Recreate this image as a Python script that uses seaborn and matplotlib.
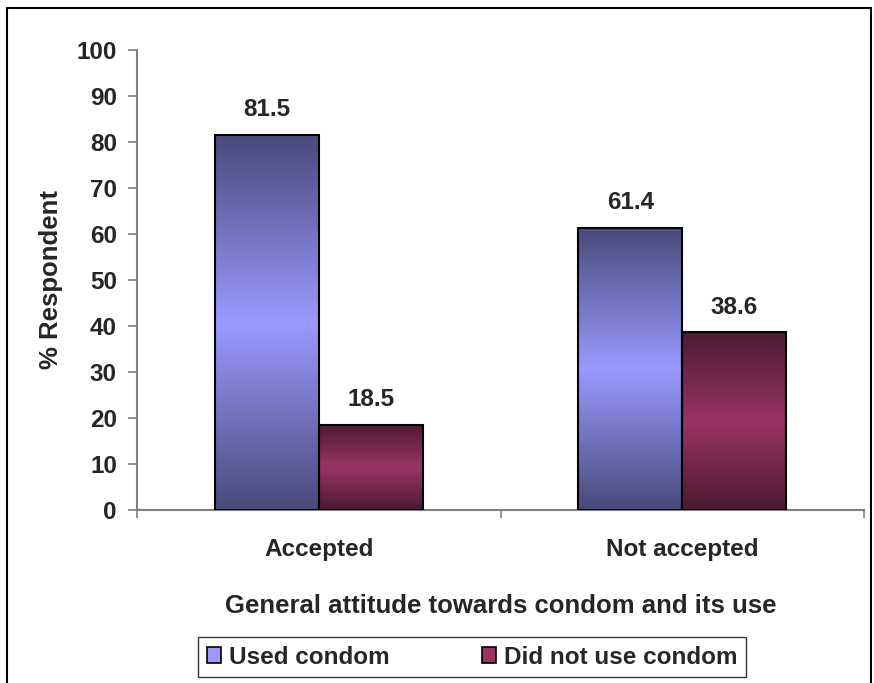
import numpy as np
import pandas as pd
import matplotlib
matplotlib.use('Agg')
import matplotlib.pyplot as plt
import seaborn as sns
from matplotlib.patches import Patch, Rectangle
from matplotlib.colors import LinearSegmentedColormap

sns.set_style('ticks')
plt.rcParams['font.family'] = ['Liberation Sans', 'DejaVu Sans']
plt.rcParams['font.weight'] = 'bold'

categories = ['Accepted', 'Not accepted']
series = ['Used condom', 'Did not use condom']
used = [81.5, 61.4]
not_used = [18.5, 38.6]

light = ['#9999FF', '#993366']
dark = ['#4A4A7C', '#4D1A33']

df = pd.DataFrame({
    'attitude': categories * 2,
    'group': [series[0]] * 2 + [series[1]] * 2,
    'value': used + not_used,
})

fig = plt.figure(figsize=(8.74, 6.83), dpi=100)
ax = fig.add_axes([0.1568, 0.2533, 0.8318, 0.6735])

sns.barplot(data=df, x='attitude', y='value', hue='group', hue_order=series,
            palette=light, width=0.573, ax=ax, legend=False,
            edgecolor='black', linewidth=1.5, saturation=1)

# vertical gradient fill (dark - light - dark) clipped to each bar
grad = np.concatenate([np.linspace(0, 1, 64), np.linspace(1, 0, 64)]).reshape(-1, 1)
for gi, cont in enumerate(ax.containers):
    cmap = LinearSegmentedColormap.from_list('g%d' % gi, [dark[gi], light[gi]])
    for bar in cont:
        x0, y0 = bar.get_x(), bar.get_y()
        w, h = bar.get_width(), bar.get_height()
        im = ax.imshow(grad, cmap=cmap, aspect='auto', extent=[x0, x0 + w, y0, y0 + h],
                       origin='lower', zorder=2, interpolation='bilinear')
        im.set_clip_path(bar)
        bar.set_facecolor('none')
        bar.set_zorder(3)
        ax.annotate('%.1f' % (y0 + h), (x0 + w / 2, y0 + h), xytext=(0, 10),
                    textcoords='offset points', ha='center', va='bottom',
                    fontsize=17.5, fontweight='bold')

ax.set_xlim(-0.5, 1.5)
ax.set_ylim(0, 100)
ax.set_yticks(range(0, 101, 10))
ax.set_xticks([-0.5, 0.5, 1.5], minor=True)
ax.tick_params(axis='x', which='major', length=0, pad=20, labelsize=17.5)
ax.tick_params(axis='x', which='minor', length=6, color='#808080', width=1.2)
ax.tick_params(axis='y', length=6.5, color='#808080', width=1.2, pad=8, labelsize=17.5)
for s in ['top', 'right']:
    ax.spines[s].set_visible(False)
for s in ['left', 'bottom']:
    ax.spines[s].set_color('#808080')
    ax.spines[s].set_linewidth(1.5)

ax.set_xlabel('General attitude towards condom and its use', fontsize=18.5,
              fontweight='bold', labelpad=24)
ax.set_ylabel('% Respondent', fontsize=18.5, fontweight='bold', labelpad=10)

handles = [Patch(facecolor=light[i], edgecolor='black', linewidth=1.2) for i in range(2)]
leg = fig.legend(handles, series, loc='center', bbox_to_anchor=(0.54, 0.038), ncol=2,
                 frameon=True, fancybox=False, edgecolor='black', fontsize=17.5,
                 handlelength=0.6, handleheight=0.6, handletextpad=0.3,
                 columnspacing=3.8, borderpad=0.35, borderaxespad=0)
leg.get_frame().set_linewidth(1.0)
for t in leg.get_texts():
    t.set_fontweight('bold')

fig.patches.append(Rectangle((0.008, -0.01), 0.989, 0.998, transform=fig.transFigure,
                             fill=False, edgecolor='black', linewidth=1.5))

fig.savefig('out.png', dpi=100)
